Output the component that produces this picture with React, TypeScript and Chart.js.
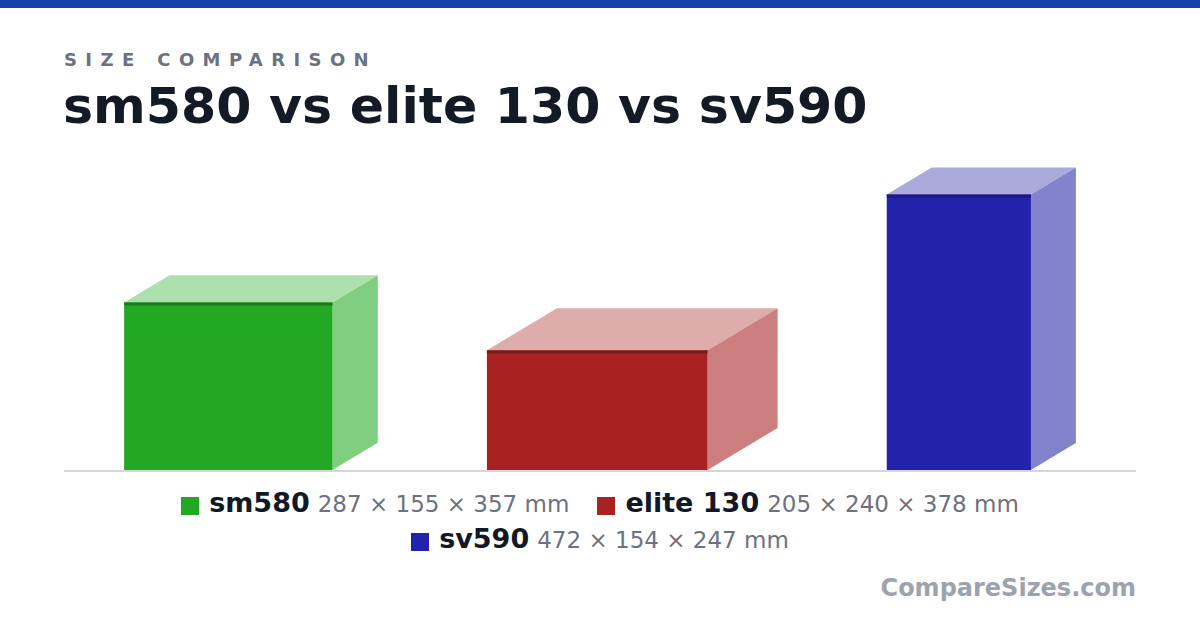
import { useEffect, useRef } from 'react';
import { Chart, registerables } from 'chart.js';

Chart.register(...registerables);

// products, in the order they stand on the baseline
const products = ['sm580', 'elite 130', 'sv590'];
// dimensions in mm, as listed in the legend: height × depth × width
const heightMm = [287, 205, 472];
const depthMm = [155, 240, 154];
const widthMm = [357, 378, 247];

// face colours per product
const frontColors = ['#22a822', '#a82224', '#2222aa'];
const topColors = ['#ace0ac', '#dfacac', '#aaaadd'];
const sideColors = ['#80cf80', '#cd7f7f', '#8282cd'];
const edgeColors = ['#1a7a1a', '#7a1a1a', '#1a1a7a'];

// layout, in mm on the chart's own axes
const MARGIN_MM = 103;
const GAP_MM = 187;
const DEPTH_X = 0.5; // oblique projection of the depth
const DEPTH_Y = 0.3;

const CHART_W = 1072;
const CHART_H = 320;

let cursor = MARGIN_MM;
const startMm = widthMm.map((w, i) => {
  const s = cursor;
  cursor += w + depthMm[i] * DEPTH_X + GAP_MM;
  return s;
});
const totalMm = cursor - GAP_MM + MARGIN_MM;
const yMaxMm = (CHART_H * totalMm) / CHART_W; // same mm → px scale on both axes

const font = '"DejaVu Sans", Verdana, sans-serif';

const boxesPlugin = {
  id: 'boxes3d',
  beforeDatasetsDraw(chart: Chart) {
    const { ctx, chartArea, scales } = chart;
    const x = scales.x;
    const y = scales.y;
    const base = y.getPixelForValue(0);

    ctx.save();
    // baseline
    ctx.fillStyle = '#d4d7dc';
    ctx.fillRect(chartArea.left, base, chartArea.right - chartArea.left, 2);

    products.forEach((_, i) => {
      const x0 = x.getPixelForValue(startMm[i]);
      const x1 = x.getPixelForValue(startMm[i] + widthMm[i]);
      const yt = y.getPixelForValue(heightMm[i]);
      const dx = x.getPixelForValue(startMm[i] + widthMm[i] + depthMm[i] * DEPTH_X) - x1;
      const dy = y.getPixelForValue(depthMm[i] * DEPTH_Y) - base;

      // top face
      ctx.fillStyle = topColors[i];
      ctx.beginPath();
      ctx.moveTo(x0, yt);
      ctx.lineTo(x1, yt);
      ctx.lineTo(x1 + dx, yt + dy);
      ctx.lineTo(x0 + dx, yt + dy);
      ctx.closePath();
      ctx.fill();

      // side face
      ctx.fillStyle = sideColors[i];
      ctx.beginPath();
      ctx.moveTo(x1, yt);
      ctx.lineTo(x1 + dx, yt + dy);
      ctx.lineTo(x1 + dx, base + dy);
      ctx.lineTo(x1, base);
      ctx.closePath();
      ctx.fill();

      // front face
      ctx.fillStyle = frontColors[i];
      ctx.fillRect(x0, yt, x1 - x0, base - yt);
      ctx.fillStyle = edgeColors[i];
      ctx.fillRect(x0, yt, x1 - x0, 3);
    });
    ctx.restore();
  },
};

function BoxChart() {
  const canvasRef = useRef<HTMLCanvasElement>(null);

  useEffect(() => {
    if (!canvasRef.current) return;
    const chart = new Chart(canvasRef.current, {
      type: 'scatter',
      data: {
        datasets: products.map((p, i) => ({
          label: p,
          data: [{ x: startMm[i] + widthMm[i] / 2, y: heightMm[i] }],
          pointRadius: 0,
        })),
      },
      options: {
        animation: false,
        responsive: true,
        maintainAspectRatio: false,
        layout: { padding: { top: 0, bottom: 2, left: 0, right: 0 } },
        scales: {
          x: { type: 'linear', min: 0, max: totalMm, display: false },
          y: { type: 'linear', min: 0, max: yMaxMm, display: false },
        },
        plugins: {
          legend: { display: false },
          tooltip: { enabled: false },
        },
      },
      plugins: [boxesPlugin],
    });
    return () => chart.destroy();
  }, []);

  return (
    <div style={{ position: 'absolute', left: 64, top: 150, width: CHART_W, height: CHART_H + 2 }}>
      <canvas ref={canvasRef} />
    </div>
  );
}

function LegendItem({ i }: { i: number }) {
  return (
    <span style={{ marginRight: 28, whiteSpace: 'nowrap' }}>
      <span
        style={{
          display: 'inline-block',
          width: 18,
          height: 18,
          background: frontColors[i],
          verticalAlign: -3,
          marginRight: 10,
        }}
      />
      <span style={{ fontWeight: 'bold', fontSize: 27, color: '#111827' }}>{products[i]}</span>
      <span style={{ fontSize: 23, color: '#6b7280', marginLeft: 8 }}>
        {heightMm[i]} × {depthMm[i]} × {widthMm[i]} mm
      </span>
    </span>
  );
}

export default function App() {
  const rows = [[0, 1], [2]];
  return (
    <div
      style={{
        position: 'absolute',
        left: 0,
        top: 0,
        width: 1200,
        height: 630,
        background: '#ffffff',
        overflow: 'hidden',
        fontFamily: font,
      }}
    >
      <div style={{ position: 'absolute', left: 0, top: 0, width: 1200, height: 8, background: '#1741a9' }} />
      <div
        style={{
          position: 'absolute',
          left: 64,
          top: 51,
          fontSize: 18,
          lineHeight: '18px',
          fontWeight: 'bold',
          letterSpacing: 8.4,
          color: '#6b7280',
        }}
      >
        SIZE COMPARISON
      </div>
      <div
        style={{
          position: 'absolute',
          left: 63,
          top: 81,
          fontSize: 50.6,
          lineHeight: '50.6px',
          fontWeight: 'bold',
          color: '#131a26',
          whiteSpace: 'nowrap',
        }}
      >
        {products.join(' vs ')}
      </div>

      <BoxChart />

      {rows.map((row, r) => (
        <div
          key={r}
          style={{
            position: 'absolute',
            left: 0,
            width: 1228,
            top: 490 + r * 36,
            lineHeight: '26px',
            textAlign: 'center',
            whiteSpace: 'nowrap',
          }}
        >
          {row.map((i) => (
            <LegendItem key={i} i={i} />
          ))}
        </div>
      ))}

      <div
        style={{
          position: 'absolute',
          right: 64,
          top: 576,
          fontSize: 24,
          lineHeight: '24px',
          fontWeight: 'bold',
          color: '#9ca3af',
        }}
      >
        CompareSizes.com
      </div>
    </div>
  );
}
